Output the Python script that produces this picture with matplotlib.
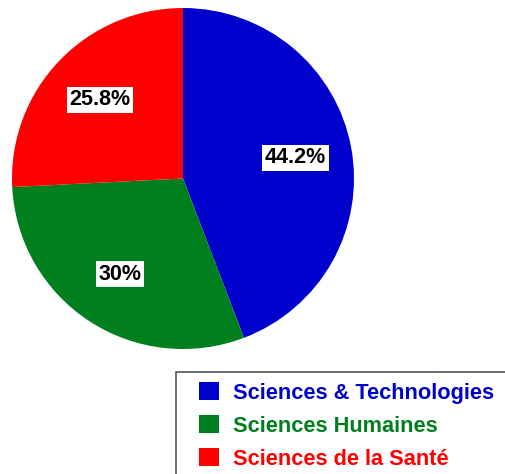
import matplotlib

matplotlib.use("Agg")

import matplotlib.pyplot as plt  # noqa: E402
from matplotlib.patches import Patch, Rectangle  # noqa: E402

# ---------- Data ----------

CATEGORIES = ["Sciences & Technologies", "Sciences Humaines", "Sciences de la Santé"]
SHARES = [44.2, 30.0, 25.8]
PCT_LABELS = ["44.2%", "30%", "25.8%"]
COLORS = ["#0000cc", "#007f1f", "#ff0000"]

plt.rcParams["font.family"] = ["Liberation Sans", "DejaVu Sans"]
plt.rcParams["font.weight"] = "bold"

fig = plt.figure(figsize=(5.06, 4.74), dpi=100)
ax = fig.add_axes([12 / 506, 1 - 349 / 474, 342 / 506, 341 / 474])

wedges, texts = ax.pie(
    SHARES,
    colors=COLORS,
    startangle=90,
    counterclock=False,
    labels=PCT_LABELS,
    labeldistance=0.67,
    radius=1.0,
    wedgeprops={"linewidth": 0},
    textprops={"fontsize": 15.5, "fontweight": "bold", "color": "black",
               "ha": "center", "va": "center"},
)
for t in texts:
    t.set_bbox({"facecolor": "white", "edgecolor": "none", "pad": 1.8})
ax.set_xlim(-1.0, 1.0)
ax.set_ylim(-1.0, 1.0)
ax.set_aspect("auto")

# legend box (runs off the right / bottom edge like the original)
fig.patches.append(
    Rectangle((176 / 506, -0.05), 0.7, 1 - 372 / 474 + 0.05,
              transform=fig.transFigure, facecolor="white",
              edgecolor="#555555", linewidth=1.2, zorder=1)
)

handles = [Patch(facecolor=c, edgecolor="none") for c in COLORS]
leg = fig.legend(
    handles, CATEGORIES,
    loc="upper left",
    bbox_to_anchor=(199 / 506, 1 - 382 / 474),
    frameon=False,
    fontsize=15.7,
    handlelength=0.92,
    handleheight=0.92,
    handletextpad=0.65,
    labelspacing=0.52,
    borderpad=0,
    borderaxespad=0,
)
leg.set_zorder(3)
for txt, c in zip(leg.get_texts(), COLORS):
    txt.set_color(c)
    txt.set_fontweight("bold")

fig.savefig("out.png", dpi=100)
